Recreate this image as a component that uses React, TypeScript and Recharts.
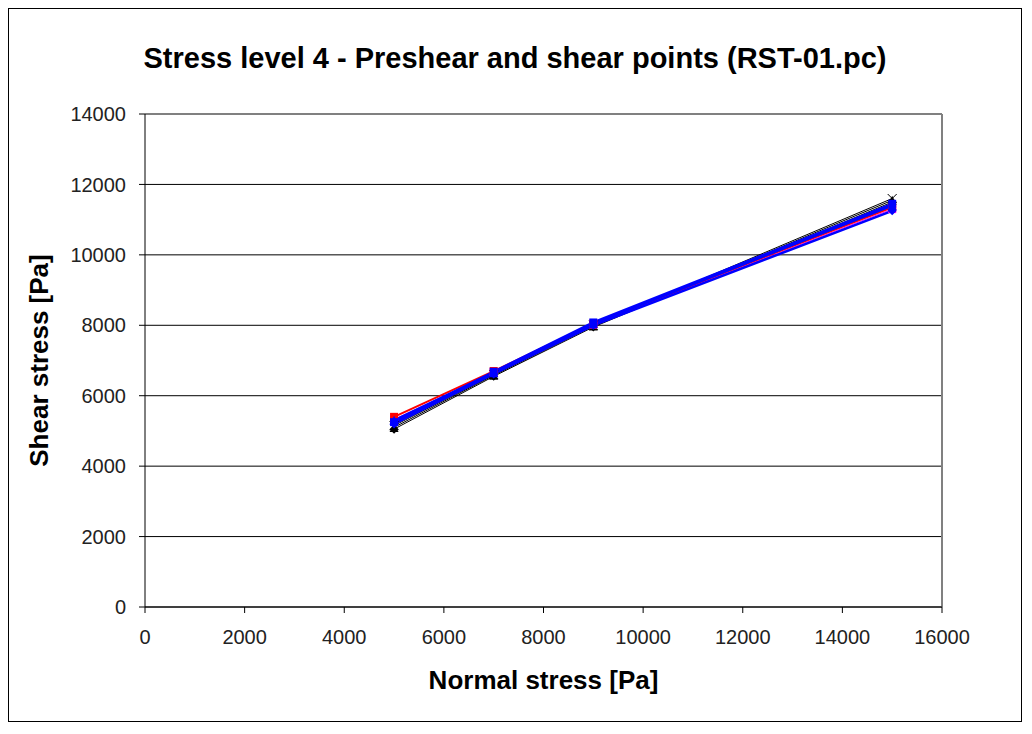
import React from 'react';
import { LineChart, Line, XAxis, YAxis, CartesianGrid, ReferenceLine, Label } from 'recharts';

const normalStress = [5000, 7000, 9000, 15000];
const xTicks = [0, 2000, 4000, 6000, 8000, 10000, 12000, 14000, 16000];
const yTicks = [0, 2000, 4000, 6000, 8000, 10000, 12000, 14000];

// shear stress per run
const blackDiamond = [5050, 6550, 7950, 11500];
const blackCross = [5150, 6600, 8000, 11600];
const blackTriangle = [5100, 6580, 7980, 11550];
const redSquare = [5400, 6700, 8050, 11350];
const magentaLine = [5320, 6660, 8020, 11300];
const blueDiamond = [5200, 6620, 8000, 11250];
const blueSquare = [5250, 6680, 8080, 11450];
const blueTriangle = [5300, 6650, 8050, 11400];

const series = [
  { key: 'bd', values: blackDiamond, color: '#000000', shape: 'diamond', width: 1 },
  { key: 'bx', values: blackCross, color: '#000000', shape: 'cross', width: 1 },
  { key: 'bt', values: blackTriangle, color: '#000000', shape: 'triangle', width: 1 },
  { key: 'mg', values: magentaLine, color: '#ff00ff', shape: 'square', width: 1 },
  { key: 'rs', values: redSquare, color: '#ff0000', shape: 'square', width: 2 },
  { key: 'bs', values: blueSquare, color: '#0000ff', shape: 'square', width: 2.5 },
  { key: 'btr', values: blueTriangle, color: '#0000ff', shape: 'triangle', width: 2.5 },
  { key: 'bdm', values: blueDiamond, color: '#0000ff', shape: 'diamond', width: 2.5 },
];

const data = normalStress.map((x, i) => {
  const row: Record<string, number> = { x };
  series.forEach(s => { row[s.key] = s.values[i]; });
  return row;
});

const font = '"Liberation Sans", Arial, sans-serif';

function makeDot(shape: string, color: string) {
  return (props: any) => {
    const { cx, cy, index } = props;
    if (cx == null || cy == null) return <g key={index} />;
    const s = 4.5;
    if (shape === 'diamond') {
      return <polygon key={index} points={`${cx},${cy - s} ${cx + s},${cy} ${cx},${cy + s} ${cx - s},${cy}`} fill={color} />;
    }
    if (shape === 'square') {
      return <rect key={index} x={cx - 4} y={cy - 4} width={8} height={8} fill={color} />;
    }
    if (shape === 'triangle') {
      return <polygon key={index} points={`${cx},${cy - s} ${cx + s},${cy + s} ${cx - s},${cy + s}`} fill={color} />;
    }
    return (
      <g key={index} stroke={color} strokeWidth={1}>
        <line x1={cx - s} y1={cy - s} x2={cx + s} y2={cy + s} />
        <line x1={cx - s} y1={cy + s} x2={cx + s} y2={cy - s} />
      </g>
    );
  };
}

export default function App() {
  return (
    <div style={{ width: 1012, height: 712, border: '1px solid #000', position: 'relative', background: '#fff' }}>
      <div style={{ position: 'absolute', top: 33, left: 0, width: 1012, lineHeight: '32px', textAlign: 'center', fontFamily: font, fontWeight: 'bold', fontSize: 29, color: '#000' }}>
        Stress level 4 - Preshear and shear points (RST-01.pc)
      </div>
      <LineChart width={1012} height={712} data={data} margin={{ top: 105, right: 79, bottom: 14, left: 0 }}>
        <CartesianGrid vertical={false} stroke="#000" strokeWidth={1} />
        <XAxis
          type="number"
          dataKey="x"
          domain={[0, 16000]}
          ticks={xTicks}
          interval={0}
          height={100}
          stroke="#000"
          tickSize={6}
          tick={{ fill: '#222', fontSize: 20, fontFamily: font }}
          tickMargin={17}
        >
          <Label value="Normal stress [Pa]" position="insideBottom" offset={18} style={{ fontFamily: font, fontWeight: 'bold', fontSize: 26, fill: '#000' }} />
        </XAxis>
        <YAxis
          type="number"
          domain={[0, 14000]}
          ticks={yTicks}
          interval={0}
          width={136}
          stroke="#000"
          tickSize={6}
          tick={{ fill: '#222', fontSize: 20, fontFamily: font }}
          tickMargin={13}
        >
          <Label value="Shear stress [Pa]" angle={-90} position="insideLeft" offset={30} style={{ fontFamily: font, fontWeight: 'bold', fontSize: 26, fill: '#000', textAnchor: 'middle' }} />
        </YAxis>
        <ReferenceLine y={14000} stroke="#808080" strokeWidth={2} />
        <ReferenceLine x={16000} stroke="#808080" strokeWidth={2} />
        {series.map(s => (
          <Line
            key={s.key}
            type="linear"
            dataKey={s.key}
            stroke={s.color}
            strokeWidth={s.width}
            dot={makeDot(s.shape, s.color)}
            activeDot={false}
            isAnimationActive={false}
          />
        ))}
      </LineChart>
    </div>
  );
}
